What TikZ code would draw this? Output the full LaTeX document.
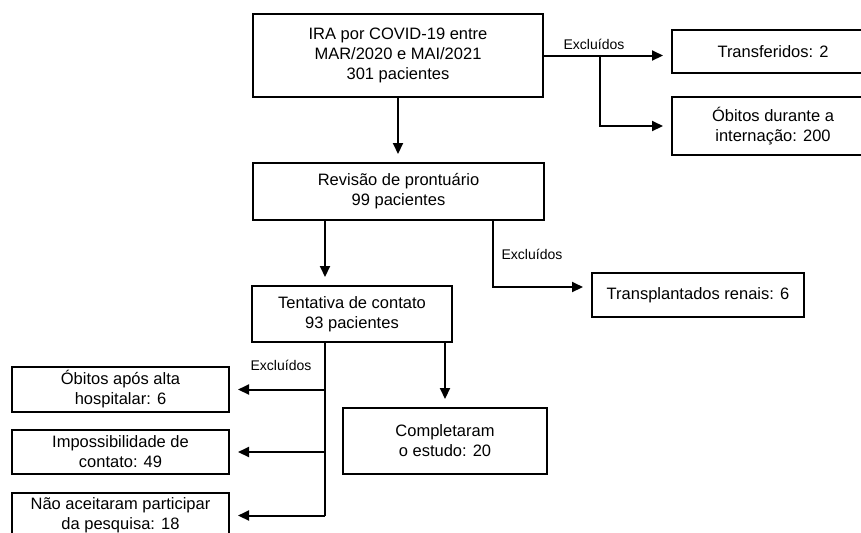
\documentclass[tikz,border=0pt]{standalone}
\usepackage{fontspec}
\setmainfont{Liberation Sans}
\usetikzlibrary{arrows.meta}

\tikzset{
	Caixa/.style={draw=black, line width=1pt, align=center, inner sep=0pt,
		font=\fontsize{8.25}{10}\selectfont},
	Seta/.style={black, line width=1pt, -{Triangle[length=5.5pt,width=5pt]}, shorten >=4pt},
	Linha/.style={black, line width=1pt},
	Rotulo/.style={inner sep=0pt, font=\fontsize{7}{8}\selectfont}
}

\begin{document}
\begin{tikzpicture}[x=0.5pt,y=-0.5pt]
\useasboundingbox (0,0) rectangle (861,532);
\clip (0,0) rectangle (861,532);
\fill[white] (0,0) rectangle (861,532);

%Caixas
\node[Caixa, minimum width=145pt, minimum height=41.5pt] (ira) at (398,55.5) {IRA por COVID-19 entre\\MAR/2020 e MAI/2021\\301 pacientes};
\node[Caixa, minimum width=101pt, minimum height=21.5pt] (transf) at (773,51.5) {Transferidos: 2};
\node[Caixa, minimum width=101pt, minimum height=29pt] (obdur) at (773,126) {Óbitos durante a\\internação: 200};
\node[Caixa, minimum width=145.5pt, minimum height=28.5pt] (rev) at (398.5,191.5) {Revisão de prontuário\\99 pacientes};
\node[Caixa, minimum width=106pt, minimum height=22pt] (transp) at (698,295) {Transplantados renais: 6};
\node[Caixa, minimum width=100pt, minimum height=28pt] (tent) at (352,314) {Tentativa de contato\\93 pacientes};
\node[Caixa, minimum width=108.5pt, minimum height=22.5pt] (obapos) at (120.5,389.5) {Óbitos após alta\\hospitalar: 6};
\node[Caixa, minimum width=108.5pt, minimum height=22pt] (imposs) at (120.5,452) {Impossibilidade de\\contato: 49};
\node[Caixa, minimum width=108.5pt, minimum height=22.5pt] (naoac) at (120.5,515.5) {Não aceitaram participar\\da pesquisa: 18};
\node[Caixa, minimum width=102pt, minimum height=33pt] (compl) at (445,441) {Completaram\\o estudo: 20};

%Pontos auxiliares
\coordinate (b1) at (600,55.5);
\coordinate (xa) at (325,0);
\coordinate (xb) at (493,287);

%Setas
\draw[Seta] (ira.south) -- (ira.south |- rev.north);
\draw[Seta] (ira.east) -- (ira.east -| transf.west);
\draw[Seta] (b1) |- (obdur.west);

\draw[Seta] (rev.south -| xa) -- (tent.north -| xa);
\draw[Seta] (rev.south -| xb) -- (xb) -- (xb -| transp.west);

\draw[Linha] (tent.south -| xa) -- (naoac.east -| xa);
\draw[Seta] (obapos.east -| xa) -- (obapos.east);
\draw[Seta] (imposs.east -| xa) -- (imposs.east);
\draw[Seta] (naoac.east -| xa) -- (naoac.east);
\draw[Seta] (tent.south -| compl) -- (compl.north);

%Rotulos
\node[Rotulo] (exc1) at (594,44) {Excluídos};
\node[Rotulo] (exc2) at (532,254) {Excluídos};
\node[Rotulo] (exc3) at (281,365) {Excluídos};
\end{tikzpicture}
\end{document}
